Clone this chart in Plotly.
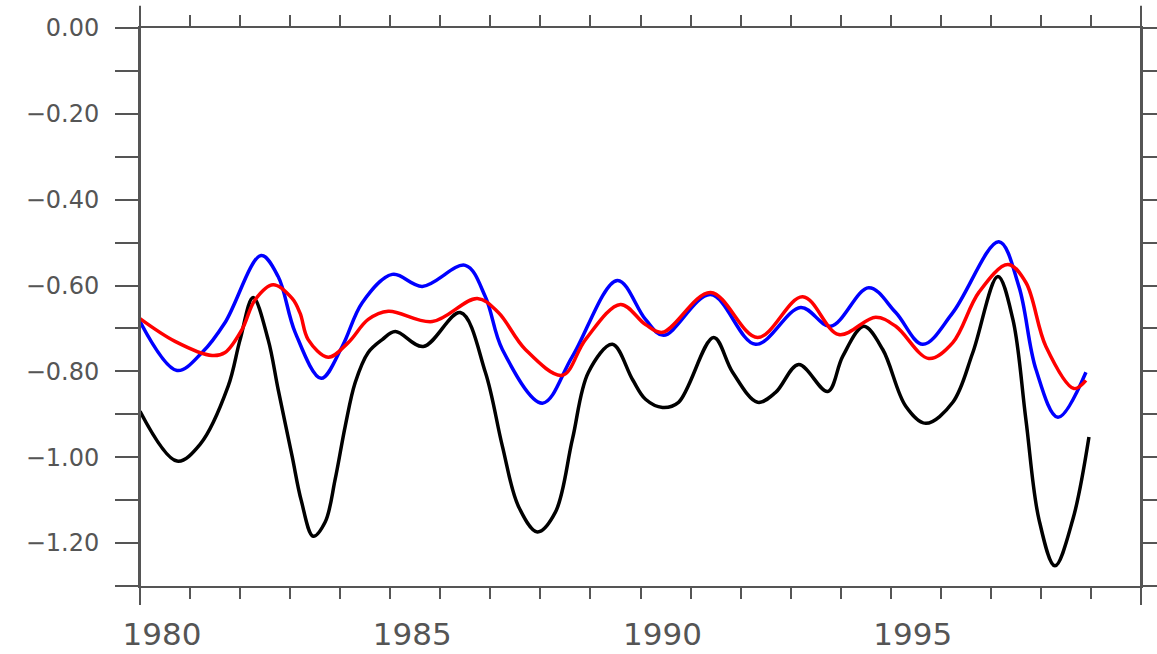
import plotly.graph_objects as go

# ---- data ----
black_x = [1980.00, 1980.74, 1981.20, 1981.76, 1982.00, 1982.26, 1982.56, 1982.76, 1983.04, 1983.22,
           1983.46, 1983.70, 1983.90, 1984.10, 1984.30, 1984.56, 1984.84, 1985.10, 1985.66, 1986.40,
           1986.90, 1987.24, 1987.56, 1987.94, 1988.30, 1988.64, 1988.96, 1989.44, 1989.84, 1990.10,
           1990.44, 1990.76, 1991.46, 1991.84, 1992.34, 1992.70, 1993.16, 1993.74, 1994.04, 1994.46,
           1994.84, 1995.30, 1995.70, 1996.24, 1996.64, 1997.14, 1997.44, 1997.70, 1997.96, 1998.28,
           1998.64, 1998.96]
black_y = [-0.893, -1.009, -0.970, -0.835, -0.726, -0.628, -0.726, -0.842, -0.998, -1.100,
           -1.184, -1.151, -1.051, -0.928, -0.826, -0.756, -0.726, -0.707, -0.742, -0.663,
           -0.802, -0.974, -1.114, -1.174, -1.128, -0.958, -0.802, -0.737, -0.819, -0.865,
           -0.884, -0.872, -0.721, -0.802, -0.872, -0.849, -0.784, -0.847, -0.765, -0.695,
           -0.749, -0.881, -0.921, -0.872, -0.756, -0.579, -0.679, -0.912, -1.144, -1.253,
           -1.144, -0.953]

blue_x = [1980.00, 1980.74, 1981.24, 1981.70, 1982.42, 1982.76, 1983.10, 1983.62, 1984.04, 1984.44,
          1985.04, 1985.64, 1986.50, 1986.90, 1987.24, 1988.04, 1988.64, 1989.54, 1990.10, 1990.46,
          1991.40, 1992.30, 1993.20, 1993.80, 1994.56, 1995.10, 1995.64, 1996.24, 1997.16, 1997.56,
          1997.90, 1998.34, 1998.90]
blue_y = [-0.684, -0.798, -0.756, -0.686, -0.530, -0.579, -0.709, -0.816, -0.742, -0.640,
          -0.574, -0.602, -0.553, -0.626, -0.749, -0.874, -0.765, -0.588, -0.679, -0.716,
          -0.621, -0.737, -0.651, -0.695, -0.605, -0.663, -0.737, -0.663, -0.498, -0.602,
          -0.795, -0.907, -0.802]

red_x = [1980.00, 1980.70, 1981.44, 1981.70, 1982.04, 1982.30, 1982.66, 1983.04, 1983.20, 1983.36,
         1983.76, 1984.16, 1984.56, 1984.96, 1985.84, 1986.74, 1987.16, 1987.70, 1988.44, 1988.90,
         1989.60, 1990.10, 1990.44, 1991.40, 1992.34, 1993.24, 1993.96, 1994.70, 1995.10, 1995.76,
         1996.24, 1996.76, 1997.34, 1997.70, 1998.10, 1998.66, 1998.90]
red_y = [-0.677, -0.730, -0.763, -0.756, -0.702, -0.633, -0.598, -0.630, -0.665, -0.726,
         -0.767, -0.733, -0.679, -0.660, -0.684, -0.630, -0.663, -0.749, -0.809, -0.726,
         -0.644, -0.691, -0.709, -0.616, -0.721, -0.626, -0.714, -0.674, -0.695, -0.770,
         -0.733, -0.616, -0.551, -0.593, -0.742, -0.840, -0.821]

x_tick_vals = list(range(1980, 2001))
x_tick_text = [str(v) if v % 5 == 0 and v < 2000 else "" for v in x_tick_vals]
y_tick_vals = [round(-0.1 * i, 2) for i in range(0, 14)]
y_tick_text = [("0.00" if i == 0 else "\u2212%.2f" % (0.1 * i)) if i % 2 == 0 else "" for i in range(0, 14)]

AX = "#555555"

fig = go.Figure()
for xs, ys, col in [(black_x, black_y, "black"), (blue_x, blue_y, "#0000ff"), (red_x, red_y, "#ff0000")]:
    fig.add_trace(go.Scatter(x=xs, y=ys, mode="lines",
                             line=dict(color=col, width=3.5, shape="spline", smoothing=1.0),
                             showlegend=False, hoverinfo="skip"))

fig.update_layout(
    width=1157, height=654,
    margin=dict(l=140, r=16, t=28, b=68, autoexpand=False),
    paper_bgcolor="white", plot_bgcolor="white",
    showlegend=False,
)
fig.update_xaxes(range=[1980, 2000], tickmode="array", tickvals=x_tick_vals, ticktext=x_tick_text,
                 ticks="outside", ticklen=11, tickwidth=2, tickcolor=AX,
                 showline=True, linecolor=AX, linewidth=2, mirror="allticks",
                 showgrid=False, zeroline=False, automargin=False,
                 tickfont=dict(family="DejaVu Sans", size=31, color="#555555"),
                 ticklabelshift=22, ticklabelstandoff=9)
fig.update_yaxes(range=[-1.3, 0], tickmode="array", tickvals=y_tick_vals, ticktext=y_tick_text,
                 ticks="outside", ticklen=23, tickwidth=2, tickcolor=AX,
                 showline=True, linecolor=AX, linewidth=2, mirror="allticks",
                 showgrid=False, zeroline=False, automargin=False,
                 tickfont=dict(family="DejaVu Sans", size=24, color="#555555"),
                 ticklabelstandoff=11)

# vertical frame lines extend beyond the plot box, as in the reference
for xp in (0, 1):
    fig.add_shape(type="line", xref="paper", yref="paper", x0=xp, x1=xp, y0=-0.034, y1=1.04,
                  line=dict(color=AX, width=2))

fig.write_html("out.html", config={"displayModeBar": False},
               post_script="document.body.style.margin='0';document.body.style.overflow='hidden';")
